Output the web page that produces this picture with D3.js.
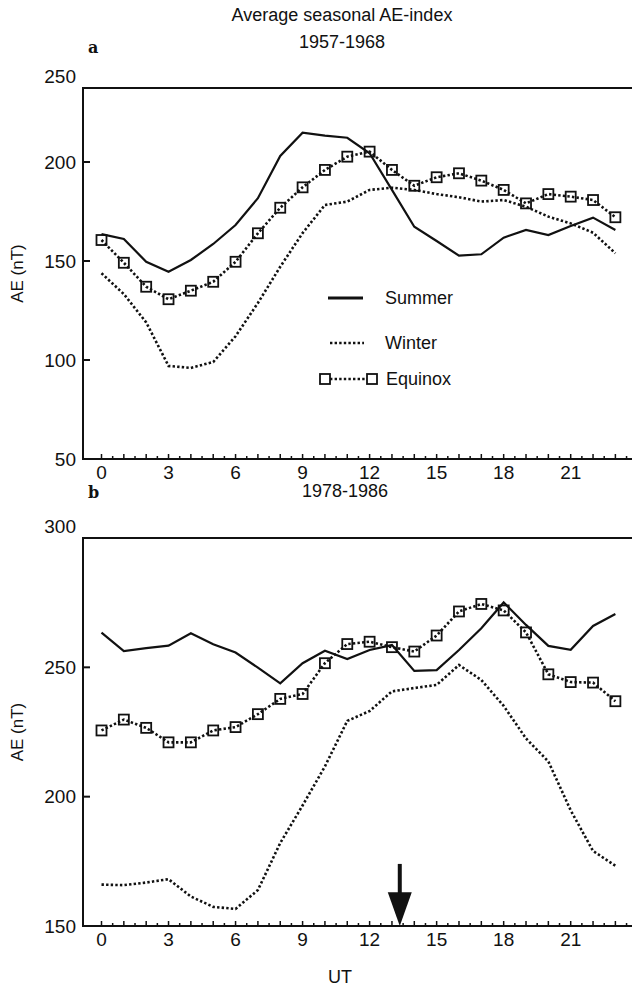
<!DOCTYPE html>
<html>
<head>
<meta charset="utf-8">
<script src="https://cdn.jsdelivr.net/npm/d3@7"></script>
<style>
  body { margin: 0; background: #fff; }
  text { font-family: "Liberation Sans", Arial, Helvetica, sans-serif; fill: #111; }
</style>
</head>
<body>
<div id="chart"></div>
<script>
// UT hours (x categories)
const hours = [0, 1, 2, 3, 4, 5, 6, 7, 8, 9, 10, 11, 12, 13, 14, 15, 16, 17, 18, 19, 20, 21, 22, 23];
const xTickLabels = [0, 3, 6, 9, 12, 15, 18, 21];

// panel a: 1957-1968
const summerA = [163.6, 161.1, 149.6, 144.6, 150.5, 158.6, 168.2, 181.7, 204.1, 219.8, 217.8, 216.4,
  205.9, 185.9, 167.3, 160.1, 152.7, 153.4, 161.8, 165.7, 163.1, 167.7, 171.9, 165.7];
const winterA = [143.8, 133.3, 119, 97, 96, 99, 112, 128.8, 147.1, 164.1, 178.3, 180,
  185.9, 187, 185.9, 183.8, 182.2, 180, 180.8, 177.4, 172.4, 169, 164.3, 153.9];
const equinoxA = [160.6, 149.1, 137, 130.7, 135, 139.5, 149.6, 164, 176.9, 187.2, 196, 203.6,
  207, 196, 188, 192.3, 194.3, 190.6, 185.9, 179.1, 183.8, 182.5, 180.8, 172.1];
const yTicksA = [50, 100, 150, 200, 250];

// panel b: 1978-1986
const summerB = [263.4, 256.3, 257.4, 258.4, 263.2, 258.9, 255.7, 249.9, 243.8, 251.6, 256.4, 253.2,
  256.7, 258.6, 248.6, 248.9, 256.7, 265.1, 275.1, 266.4, 258.3, 256.8, 266, 270.6];
const winterB = [166, 165.8, 166.8, 168.1, 161.4, 157.4, 156.6, 163.9, 182.1, 196.6, 211.7, 229.3,
  233.1, 240.7, 242, 243.2, 250.9, 245.1, 235.1, 222.5, 213.6, 194.7, 179, 173.3];
const equinoxB = [225.6, 229.8, 226.6, 221, 221, 225.6, 226.9, 231.9, 237.8, 239.7, 251.6, 259,
  259.9, 257.8, 256.1, 262.3, 271.6, 274.5, 272, 263.5, 247.3, 244.3, 244.1, 236.9];
const yTicksB = [150, 200, 250, 300];

// arrow marking UT in panel b: [UT, top, head base, tip]
const arrowB = [13.35, 174, 163, 150];

const seriesNames = ["Summer", "Winter", "Equinox"];

const W = 632, H = 989;
const left = 83, right = 640;
const fs = "18px";
const tickFs = "19px";

const svg = d3.select("#chart").append("svg")
  .attr("width", W).attr("height", H)
  .style("background", "#fff");

const x = d3.scaleLinear().domain([0, 21]).range([101.5, 570.7]);

const line = (y) => d3.line().x((d, i) => x(hours[i])).y((d) => y(d));

function panel(cfg) {
  const { y, top, bottom, ticks, summer, winter, equinox } = cfg;
  const g = svg.append("g");
  const topTick = d3.max(ticks);

  // frame
  g.append("rect")
    .attr("x", left).attr("y", top)
    .attr("width", right - left).attr("height", bottom - top)
    .attr("fill", "none").attr("stroke", "#111").attr("stroke-width", 2);

  // y ticks (inward) and labels
  g.selectAll(".yt").data(ticks).enter().append("line")
    .attr("x1", left).attr("x2", left + 7)
    .attr("y1", (d) => y(d)).attr("y2", (d) => y(d))
    .attr("stroke", "#111").attr("stroke-width", 2);
  g.selectAll(".yl").data(ticks).enter().append("text")
    .attr("x", left - 7)
    .attr("y", (d) => y(d) - (d === topTick ? 12 : 0)).attr("dy", "0.35em")
    .attr("text-anchor", "end").style("font-size", tickFs)
    .text((d) => d);

  // x ticks every half hour, inward
  const halfTicks = d3.range(0, 23.51, 0.5);
  g.selectAll(".xt").data(halfTicks).enter().append("line")
    .attr("x1", (d) => x(d)).attr("x2", (d) => x(d))
    .attr("y1", bottom).attr("y2", (d) => bottom - (d % 1 === 0 ? 5 : 3))
    .attr("stroke", "#111").attr("stroke-width", 1.5);
  g.selectAll(".xl").data(xTickLabels).enter().append("text")
    .attr("x", (d) => x(d)).attr("y", bottom + 20)
    .attr("text-anchor", "middle").style("font-size", tickFs)
    .text((d) => d);

  // y title
  g.append("text")
    .attr("transform", `translate(23,${(top + bottom) / 2}) rotate(-90)`)
    .attr("text-anchor", "middle").style("font-size", "17px")
    .text("AE (nT)");

  // series
  g.append("path").datum(winter)
    .attr("d", line(y)).attr("fill", "none")
    .attr("stroke", "#111").attr("stroke-width", 2.6)
    .attr("stroke-dasharray", "2.4 2.2");
  g.append("path").datum(equinox)
    .attr("d", line(y)).attr("fill", "none")
    .attr("stroke", "#111").attr("stroke-width", 2.6)
    .attr("stroke-dasharray", "2.4 2.2");
  g.append("path").datum(summer)
    .attr("d", line(y)).attr("fill", "none")
    .attr("stroke", "#111").attr("stroke-width", 2.2);
  g.selectAll(".sq").data(equinox).enter().append("rect")
    .attr("x", (d, i) => x(hours[i]) - 5).attr("y", (d) => y(d) - 5)
    .attr("width", 10).attr("height", 10)
    .attr("fill", "none").attr("stroke", "#111").attr("stroke-width", 1.8);
  return g;
}

// ---- panel a
const topA = 88, bottomA = 459;
const yA = d3.scaleLinear().domain([50, 200, 250]).range([bottomA, 162, topA]);
panel({ y: yA, top: topA, bottom: bottomA, ticks: yTicksA, summer: summerA, winter: winterA, equinox: equinoxA });

svg.append("text").attr("x", 342).attr("y", 21).attr("text-anchor", "middle")
  .style("font-size", fs).text("Average seasonal AE-index");
svg.append("text").attr("x", 342).attr("y", 48).attr("text-anchor", "middle")
  .style("font-size", fs).text("1957-1968");
svg.append("text").attr("x", 88).attr("y", 53)
  .style("font-family", "'DejaVu Serif', 'Liberation Serif', serif")
  .style("font-weight", "bold").style("font-size", "16px").text("a");

// legend
const lg = svg.append("g");
lg.append("line").attr("x1", 328).attr("x2", 363).attr("y1", 298).attr("y2", 298)
  .attr("stroke", "#111").attr("stroke-width", 3.2);
lg.append("line").attr("x1", 330).attr("x2", 364).attr("y1", 343).attr("y2", 343)
  .attr("stroke", "#111").attr("stroke-width", 2.6).attr("stroke-dasharray", "2.4 2.2");
lg.append("line").attr("x1", 330).attr("x2", 367).attr("y1", 379).attr("y2", 379)
  .attr("stroke", "#111").attr("stroke-width", 2.6).attr("stroke-dasharray", "2.4 2.2");
[325, 372].forEach((cx) => {
  lg.append("rect").attr("x", cx - 5).attr("y", 374).attr("width", 10).attr("height", 10)
    .attr("fill", "#fff").attr("stroke", "#111").attr("stroke-width", 1.8);
});
lg.selectAll(".lt").data(seriesNames).enter().append("text")
  .attr("x", (d, i) => (i === 2 ? 386 : 385))
  .attr("y", (d, i) => [298, 343, 379][i]).attr("dy", "0.35em")
  .style("font-size", fs).text((d) => d);

// ---- panel b
const topB = 538, bottomB = 926;
const yB = d3.scaleLinear().domain([150, 300]).range([bottomB, topB]);
panel({ y: yB, top: topB, bottom: bottomB, ticks: yTicksB, summer: summerB, winter: winterB, equinox: equinoxB });

svg.append("text").attr("x", 345).attr("y", 497).attr("text-anchor", "middle")
  .style("font-size", fs).text("1978-1986");
svg.append("text").attr("x", 88).attr("y", 498)
  .style("font-family", "'DejaVu Serif', 'Liberation Serif', serif")
  .style("font-weight", "bold").style("font-size", "16px").text("b");
svg.append("text").attr("x", 340).attr("y", 983).attr("text-anchor", "middle")
  .style("font-size", fs).text("UT");

// arrow
const ax = x(arrowB[0]);
svg.append("line").attr("x1", ax).attr("x2", ax)
  .attr("y1", yB(arrowB[1])).attr("y2", yB(arrowB[2]) + 1)
  .attr("stroke", "#111").attr("stroke-width", 4);
svg.append("path")
  .attr("d", `M${ax - 12},${yB(arrowB[2])} L${ax + 12},${yB(arrowB[2])} L${ax},${yB(arrowB[3])} Z`)
  .attr("fill", "#111");
</script>
</body>
</html>
